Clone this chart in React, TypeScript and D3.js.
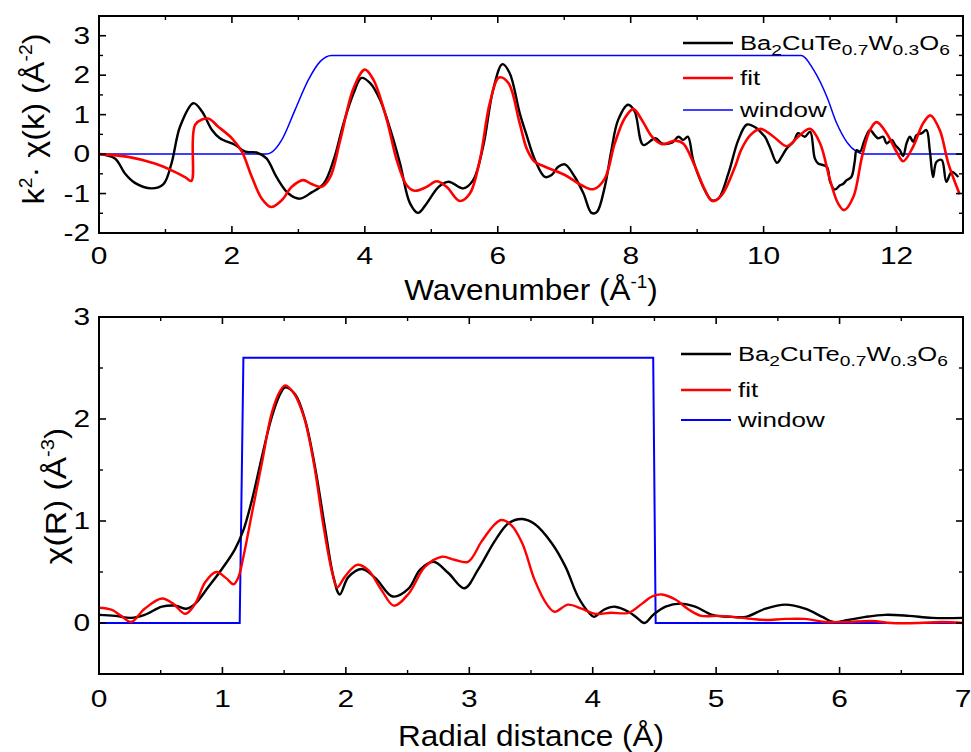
import React from 'react';
import * as d3 from 'd3';

// ---- k-space (top panel) ----
const kData = [0, 0.24, 0.39, 0.54, 0.79, 0.97, 1.09, 1.22, 1.42, 1.55, 1.7, 1.82, 2.05, 2.2, 2.37, 2.52, 2.67, 2.85, 3.02, 3.2, 3.38, 3.53, 3.68, 3.83, 3.95, 4.08, 4.23, 4.4, 4.53, 4.68, 4.8, 4.93, 5.11, 5.26, 5.48, 5.63, 5.78, 5.93, 6.07, 6.18, 6.33, 6.43, 6.56, 6.71, 6.81, 6.91, 7.01, 7.16, 7.29, 7.41, 7.49, 7.61, 7.71, 7.81, 7.96, 8.06, 8.19, 8.37, 8.47, 8.62, 8.72, 8.79, 8.86, 8.94, 9.07, 9.22, 9.32, 9.47, 9.62, 9.75, 9.9, 9.97, 10.02, 10.1, 10.2, 10.27, 10.35, 10.45, 10.52, 10.62, 10.7, 10.77, 10.82, 10.95, 11.0, 11.07, 11.15, 11.2, 11.25, 11.32, 11.37, 11.4, 11.45, 11.52, 11.6, 11.67, 11.72, 11.8, 11.85, 11.93, 11.98, 12.05, 12.1, 12.15, 12.2, 12.25, 12.3, 12.38, 12.45, 12.5, 12.55, 12.6, 12.68, 12.75, 12.83, 12.93];
const chiData = [0, -0.11, -0.49, -0.73, -0.87, -0.76, -0.24, 0.7, 1.29, 1.08, 0.61, 0.4, 0.23, 0.06, 0.04, -0.11, -0.58, -1.0, -1.13, -0.97, -0.75, -0.15, 0.78, 1.54, 1.93, 1.8, 1.37, 0.53, -0.24, -1.25, -1.49, -1.25, -0.83, -0.7, -0.87, -0.66, 0.19, 1.63, 2.28, 2.05, 1.04, 0.5, -0.15, -0.58, -0.53, -0.32, -0.26, -0.58, -1.0, -1.49, -1.47, -0.83, 0.1, 0.86, 1.25, 1.08, 0.23, 0.4, 0.27, 0.29, 0.44, 0.36, 0.44, -0.15, -0.75, -1.17, -1.13, -0.49, 0.36, 0.75, 0.65, 0.53, 0.44, 0.15, -0.22, -0.07, 0.15, 0.31, 0.53, 0.44, 0.57, -0.11, -0.24, -0.32, -0.7, -0.9, -0.79, -0.75, -0.66, -0.58, -0.2, 0.1, 0.06, 0.36, 0.61, 0.48, 0.4, 0.44, 0.27, 0.36, 0.23, 0.1, -0.05, 0.27, 0.44, 0.31, 0.48, 0.53, 0.61, 0.1, -0.58, -0.2, -0.15, -0.7, -0.45, -0.58];

const kFit = [0, 0.44, 0.84, 1.14, 1.3, 1.39, 1.45, 1.64, 1.79, 2.0, 2.15, 2.3, 2.45, 2.59, 2.75, 2.9, 3.07, 3.2, 3.35, 3.48, 3.63, 3.83, 4.0, 4.13, 4.33, 4.48, 4.63, 4.75, 4.93, 5.08, 5.23, 5.43, 5.58, 5.73, 5.88, 6.02, 6.16, 6.33, 6.44, 6.56, 6.71, 7.01, 7.26, 7.44, 7.61, 7.76, 7.91, 8.04, 8.17, 8.32, 8.47, 8.67, 8.79, 8.97, 9.12, 9.23, 9.37, 9.57, 9.66, 9.8, 9.95, 10.15, 10.35, 10.52, 10.7, 10.85, 11.0, 11.12, 11.21, 11.35, 11.48, 11.6, 11.7, 11.85, 12.0, 12.1, 12.25, 12.4, 12.51, 12.65, 12.78, 12.95];
const chiFit = [0, -0.07, -0.24, -0.45, -0.59, -0.68, 0.75, 0.9, 0.7, 0.4, 0.06, -0.58, -1.13, -1.34, -1.17, -0.83, -0.66, -0.76, -0.83, -0.58, 0.36, 1.67, 2.14, 1.88, 0.87, -0.15, -0.79, -0.93, -0.83, -0.69, -0.83, -1.19, -1.0, -0.15, 1.29, 1.94, 1.8, 0.78, 0.12, -0.2, -0.32, -0.53, -0.79, -0.89, -0.62, 0.27, 0.91, 1.14, 0.86, 0.44, 0.25, 0.34, 0.27, -0.32, -0.92, -1.19, -1.04, -0.32, 0.1, 0.48, 0.64, 0.44, 0.2, 0.44, 0.64, 0.27, -0.66, -1.25, -1.42, -1.09, -0.07, 0.61, 0.81, 0.53, 0.06, -0.18, 0.19, 0.78, 0.98, 0.61, -0.24, -1.02];

const kWin = [0, 2.52, 2.6, 2.75, 2.95, 3.15, 3.33, 3.5, 10.57, 10.75, 10.95, 11.1, 11.25, 11.4, 11.5, 13];
const chiWin = [0, 0, 0.05, 0.36, 1.12, 1.88, 2.35, 2.5, 2.5, 2.14, 1.46, 0.78, 0.31, 0.06, 0, 0];

// ---- R-space (bottom panel) ----
const rData = [0, 0.13, 0.26, 0.37, 0.51, 0.62, 0.71, 0.78, 0.89, 0.99, 1.1, 1.17, 1.24, 1.32, 1.4, 1.47, 1.51, 1.59, 1.67, 1.75, 1.83, 1.9, 1.95, 2.02, 2.13, 2.24, 2.38, 2.51, 2.6, 2.71, 2.83, 2.96, 3.07, 3.21, 3.32, 3.43, 3.53, 3.67, 3.78, 3.88, 3.97, 4.01, 4.09, 4.18, 4.29, 4.36, 4.42, 4.49, 4.59, 4.71, 4.83, 4.97, 5.13, 5.24, 5.4, 5.56, 5.72, 5.86, 5.95, 6.07, 6.21, 6.37, 6.56, 6.75, 7.0];
const magData = [0.08, 0.07, 0.05, 0.08, 0.16, 0.17, 0.14, 0.19, 0.36, 0.52, 0.72, 0.91, 1.21, 1.63, 2.02, 2.25, 2.31, 2.24, 1.99, 1.53, 0.94, 0.45, 0.28, 0.45, 0.53, 0.44, 0.26, 0.34, 0.52, 0.6, 0.49, 0.34, 0.52, 0.81, 0.98, 1.02, 0.97, 0.78, 0.55, 0.26, 0.1, 0.06, 0.13, 0.16, 0.11, 0.05, 0.0, 0.08, 0.16, 0.19, 0.16, 0.08, 0.06, 0.06, 0.14, 0.18, 0.14, 0.06, 0.01, 0.03, 0.06, 0.08, 0.07, 0.05, 0.05];

const rFit = [0, 0.1, 0.18, 0.26, 0.37, 0.51, 0.6, 0.7, 0.78, 0.86, 0.95, 1.03, 1.09, 1.13, 1.17, 1.24, 1.32, 1.4, 1.47, 1.51, 1.58, 1.66, 1.74, 1.82, 1.89, 1.93, 1.99, 2.09, 2.18, 2.29, 2.39, 2.51, 2.64, 2.78, 2.88, 2.99, 3.1, 3.2, 3.26, 3.34, 3.43, 3.53, 3.63, 3.69, 3.8, 3.91, 4.02, 4.15, 4.29, 4.4, 4.48, 4.56, 4.67, 4.78, 4.88, 5.02, 5.13, 5.29, 5.4, 5.56, 5.72, 5.88, 6.05, 6.26, 6.42, 6.64, 6.83, 7.0];
const magFit = [0.15, 0.13, 0.07, 0.01, 0.14, 0.24, 0.19, 0.09, 0.19, 0.4, 0.5, 0.44, 0.38, 0.45, 0.65, 1.08, 1.57, 2.06, 2.28, 2.33, 2.25, 2.02, 1.57, 0.94, 0.49, 0.35, 0.45, 0.57, 0.52, 0.32, 0.17, 0.29, 0.55, 0.65, 0.62, 0.6, 0.8, 0.96, 1.01, 0.96, 0.78, 0.42, 0.18, 0.11, 0.18, 0.14, 0.09, 0.1, 0.1, 0.19, 0.26, 0.28, 0.23, 0.13, 0.07, 0.07, 0.06, 0.04, 0.03, 0.04, 0.04, 0.01, 0.01, 0.02, 0.0, 0.0, 0.01, 0.0];

const rWin = [0, 1.14, 1.17, 4.49, 4.51, 7];
const magWin = [0, 0, 2.6, 2.6, 0, 0];

const legendNames = ['data', 'fit', 'window'];
const colors = { data: '#000000', fit: '#ff0000', window: '#0000ff' };

const FONT = '"Liberation Sans", Arial, sans-serif';
const TICK_FS = 23;
const TICK_SX = 1.3;
const TITLE_FS = 30;

const zip = (xs: number[], ys: number[]) => xs.map((x, i) => [x, ys[i]] as [number, number]);

function Txt({ x, y, sx = 1, size, anchor = 'middle', rot = 0, children }: any) {
  return (
    <text transform={`translate(${x},${y}) rotate(${rot}) scale(${sx},1)`} fontSize={size} textAnchor={anchor}
      fontFamily={FONT} fill="#000">{children}</text>
  );
}

function Frame({ x, y, xMajor, xMinor, yMajor, yMinor, labelY }: any) {
  const [x0, x1] = x.range();
  const [y0, y1] = y.range(); // y0 bottom, y1 top
  const maj = 7, min = 4;
  return (
    <g>
      {xMajor.map((t: number) => (
        <g key={'xM' + t}>
          <line x1={x(t)} x2={x(t)} y1={y0} y2={y0 - maj} stroke="#000" strokeWidth={1.6} />
          <line x1={x(t)} x2={x(t)} y1={y1} y2={y1 + maj} stroke="#000" strokeWidth={1.6} />
          <Txt x={x(t)} y={labelY} sx={TICK_SX} size={TICK_FS}>{String(t)}</Txt>
        </g>
      ))}
      {xMinor.map((t: number) => (
        <g key={'xm' + t}>
          <line x1={x(t)} x2={x(t)} y1={y0} y2={y0 - min} stroke="#000" strokeWidth={1.4} />
          <line x1={x(t)} x2={x(t)} y1={y1} y2={y1 + min} stroke="#000" strokeWidth={1.4} />
        </g>
      ))}
      {yMajor.map((t: number) => (
        <g key={'yM' + t}>
          <line x1={x0} x2={x0 + maj} y1={y(t)} y2={y(t)} stroke="#000" strokeWidth={1.6} />
          <line x1={x1} x2={x1 - maj} y1={y(t)} y2={y(t)} stroke="#000" strokeWidth={1.6} />
          <Txt x={x0 - 9} y={y(t) + 8} sx={TICK_SX} size={TICK_FS} anchor="end">{String(t)}</Txt>
        </g>
      ))}
      {yMinor.map((t: number) => (
        <g key={'ym' + t}>
          <line x1={x0} x2={x0 + min} y1={y(t)} y2={y(t)} stroke="#000" strokeWidth={1.4} />
          <line x1={x1} x2={x1 - min} y1={y(t)} y2={y(t)} stroke="#000" strokeWidth={1.4} />
        </g>
      ))}
      <rect x={x0} y={y1} width={x1 - x0} height={y0 - y1} fill="none" stroke="#000" strokeWidth={2} />
    </g>
  );
}

function Legend({ x, ys, blueW }: any) {
  const sub = (s: string) => <tspan fontSize={15} dy={5}>{s}</tspan>;
  const up = (s: string) => <tspan dy={-5}>{s}</tspan>;
  return (
    <g>
      {legendNames.map((n, i) => (
        <line key={n} x1={x} x2={x + 50} y1={ys[i] - 7} y2={ys[i] - 7}
          stroke={(colors as any)[n]} strokeWidth={n === 'window' ? blueW : 2.4} />
      ))}
      <Txt x={x + 57} y={ys[0]} sx={1.28} size={20} anchor="start">
        Ba{sub('2')}{up('CuTe')}{sub('0.7')}{up('W')}{sub('0.3')}{up('O')}{sub('6')}
      </Txt>
      <Txt x={x + 57} y={ys[1]} sx={1.3} size={20} anchor="start">fit</Txt>
      <Txt x={x + 57} y={ys[2]} sx={1.3} size={20} anchor="start">window</Txt>
    </g>
  );
}

export default function App() {
  const L = 99, R = 963;

  // top panel
  const xk = d3.scaleLinear().domain([0, 13]).range([L, R]);
  const yk = d3.scaleLinear().domain([-2, 3.5]).range([233, 16]);
  const lineK = d3.line<[number, number]>().x(d => xk(d[0])).y(d => yk(d[1])).curve(d3.curveCatmullRom.alpha(0.5));
  const lineKw = d3.line<[number, number]>().x(d => xk(d[0])).y(d => yk(d[1])).curve(d3.curveMonotoneX);

  // bottom panel
  const xr = d3.scaleLinear().domain([0, 7]).range([L, R]);
  const yr = d3.scaleLinear().domain([-0.5, 3]).range([674, 317]);
  const lineR = d3.line<[number, number]>().x(d => xr(d[0])).y(d => yr(d[1])).curve(d3.curveCatmullRom.alpha(0.5));
  const lineRw = d3.line<[number, number]>().x(d => xr(d[0])).y(d => yr(d[1]));

  const supUp = (s: string) => <tspan fontSize={18} dy={-12}>{s}</tspan>;

  return (
    <svg width={971} height={752} style={{ position: 'absolute', left: 0, top: 0, background: '#fff' }}>
      <defs>
        <clipPath id="clipK"><rect x={L} y={16} width={R - L} height={217} /></clipPath>
        <clipPath id="clipR"><rect x={L} y={317} width={R - L} height={357} /></clipPath>
      </defs>

      {/* top panel */}
      <g clipPath="url(#clipK)">
        <path d={lineKw(zip(kWin, chiWin)) || ''} fill="none" stroke={colors.window} strokeWidth={1.5} />
        <path d={lineK(zip(kData, chiData)) || ''} fill="none" stroke={colors.data} strokeWidth={2.4} strokeLinejoin="round" />
        <path d={lineK(zip(kFit, chiFit)) || ''} fill="none" stroke={colors.fit} strokeWidth={2.6} strokeLinejoin="round" />
      </g>
      <Frame x={xk} y={yk} xMajor={[0, 2, 4, 6, 8, 10, 12]} xMinor={[1, 3, 5, 7, 9, 11]}
        yMajor={[-2, -1, 0, 1, 2, 3]} yMinor={[-1.5, -0.5, 0.5, 1.5, 2.5]} labelY={264} />
      <Legend x={683} ys={[50, 85, 117]} blueW={1.5} />
      <Txt x={44} y={119} rot={-90} sx={1.08} size={TITLE_FS}>
        k{supUp('2')}<tspan dy={12}>· χ(k) (Å</tspan>{supUp('-2')}<tspan dy={12}>)</tspan>
      </Txt>
      <Txt x={531} y={300} sx={1.05} size={TITLE_FS}>
        Wavenumber (Å{supUp('-1')}<tspan dy={12}>)</tspan>
      </Txt>

      {/* bottom panel */}
      <g clipPath="url(#clipR)">
        <path d={lineRw(zip(rWin, magWin)) || ''} fill="none" stroke={colors.window} strokeWidth={2} />
        <path d={lineR(zip(rData, magData)) || ''} fill="none" stroke={colors.data} strokeWidth={2.4} strokeLinejoin="round" />
        <path d={lineR(zip(rFit, magFit)) || ''} fill="none" stroke={colors.fit} strokeWidth={2.4} strokeLinejoin="round" />
      </g>
      <Frame x={xr} y={yr} xMajor={[0, 1, 2, 3, 4, 5, 6, 7]} xMinor={[0.5, 1.5, 2.5, 3.5, 4.5, 5.5, 6.5]}
        yMajor={[0, 1, 2, 3]} yMinor={[-0.5, 0.5, 1.5, 2.5]} labelY={707} />
      <Legend x={681} ys={[361, 397, 427]} blueW={2} />
      <Txt x={66} y={496} rot={-90} sx={1.12} size={TITLE_FS}>
        χ(R) (Å{supUp('-3')}<tspan dy={12}>)</tspan>
      </Txt>
      <Txt x={531} y={746} sx={1.05} size={TITLE_FS}>Radial distance (Å)</Txt>
    </svg>
  );
}
